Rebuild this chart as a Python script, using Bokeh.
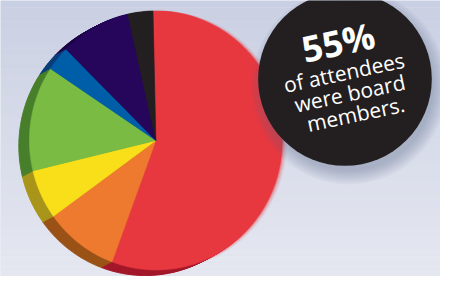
import numpy as np
from bokeh.plotting import figure
from bokeh.models import Range1d, ColumnDataSource
from bokeh.embed import file_html
from bokeh.resources import INLINE
from bokeh.core.properties import value

# ---- data ----
categories = ["Board members", "Group B", "Group C", "Group D", "Group E", "Group F", "Group G"]
shares = [56.0, 9.4, 6.2, 13.1, 3.1, 9.0, 3.2]
face_colors = ["#e8383f", "#ee7a30", "#f8df1a", "#79bb43", "#005ea8", "#25065a", "#231f20"]
side_colors = ["#a3182a", "#9a5216", "#a8951a", "#487f2b", "#0b3f7a", "#1c0545", "#1a1718"]
callout_big = ["55%"]
callout_lines = ["of attendees", "were board", "members."]

# ---- layout (reference pixel space, y downward) ----
W, H = 440, 276
cx, cy, rx, ry = 161.0, 148.0, 131.0, 137.0
start_deg = 91.3
depth = (-11.0, 6.0)

p = figure(width=W, height=H, x_range=Range1d(0, 456), y_range=Range1d(292, 0),
           output_backend="svg", toolbar_location=None, min_border=0)
p.axis.visible = False
p.grid.visible = False
p.outline_line_color = None
p.background_fill_color = "#d8dcea"
p.border_fill_color = "#d8dcea"

# background gradient
nb = 40
edges = np.linspace(0, 292, nb + 1)
c0 = np.array([0xca, 0xd0, 0xe3])
c1 = np.array([0xe6, 0xe8, 0xf1])
cols = []
for i in range(nb):
    t = (i + 0.5) / nb
    c = (c0 * (1 - t) + c1 * t).astype(int)
    cols.append("#%02x%02x%02x" % tuple(c))
p.quad(left=0, right=456, top=edges[:-1], bottom=edges[1:], fill_color=cols, line_color=None)


def slice_polys(dx=0.0, dy=0.0):
    tot = float(sum(shares))
    cum = np.concatenate([[0.0], np.cumsum(shares)]) / tot
    xs, ys = [], []
    for i in range(len(shares)):
        a0 = np.radians(start_deg - cum[i] * 360.0)
        a1 = np.radians(start_deg - cum[i + 1] * 360.0)
        n = max(4, int(abs(np.degrees(a1 - a0))) + 2)
        t = np.linspace(a0, a1, n)
        x = np.concatenate([[cx], cx + rx * np.cos(t), [cx]]) + dx
        y = np.concatenate([[cy], cy - ry * np.sin(t), [cy]]) + dy
        xs.append(list(x))
        ys.append(list(y))
    return xs, ys


# 3D side (extrusion)
steps = 8
for k in range(steps, 0, -1):
    xs, ys = slice_polys(depth[0] * k / steps, depth[1] * k / steps)
    src = ColumnDataSource(dict(xs=xs, ys=ys, color=side_colors, cat=categories))
    p.patches("xs", "ys", source=src, fill_color="color", line_color="color", line_width=1)

# slight blur on the big slice's right edge
for k, a in [(5, 0.12), (3, 0.2), (1.5, 0.35)]:
    xs, ys = slice_polys(k, 0)
    p.patch(xs[0], ys[0], fill_color=face_colors[0], fill_alpha=a, line_color=None)

# top faces
xs, ys = slice_polys()
src = ColumnDataSource(dict(xs=xs, ys=ys, color=face_colors, cat=categories, share=shares))
p.patches("xs", "ys", source=src, fill_color="color", line_color="color", line_width=0.6)

# callout shadow + circle
for k in range(7):
    p.circle(x=[361], y=[91], radius=88 + 2.2 * k, fill_color="#5d6380", fill_alpha=0.06, line_color=None)
p.circle(x=[357], y=[83], radius=90, fill_color="#231f20", line_color=None)

ang = np.radians(12)
p.text(x=[350], y=[44], text=callout_big, angle=ang, text_align="center", text_baseline="middle",
       text_font=value("Open Sans"), text_font_style="bold", text_font_size="36px", text_color="white")
p.text(x=[356, 362, 368], y=[76, 98, 120], text=callout_lines, angle=ang, text_align="center",
       text_baseline="middle", text_font=value("Open Sans"), text_font_size="21px", text_color="white")

open("out.html", "w").write(file_html(p, INLINE))
